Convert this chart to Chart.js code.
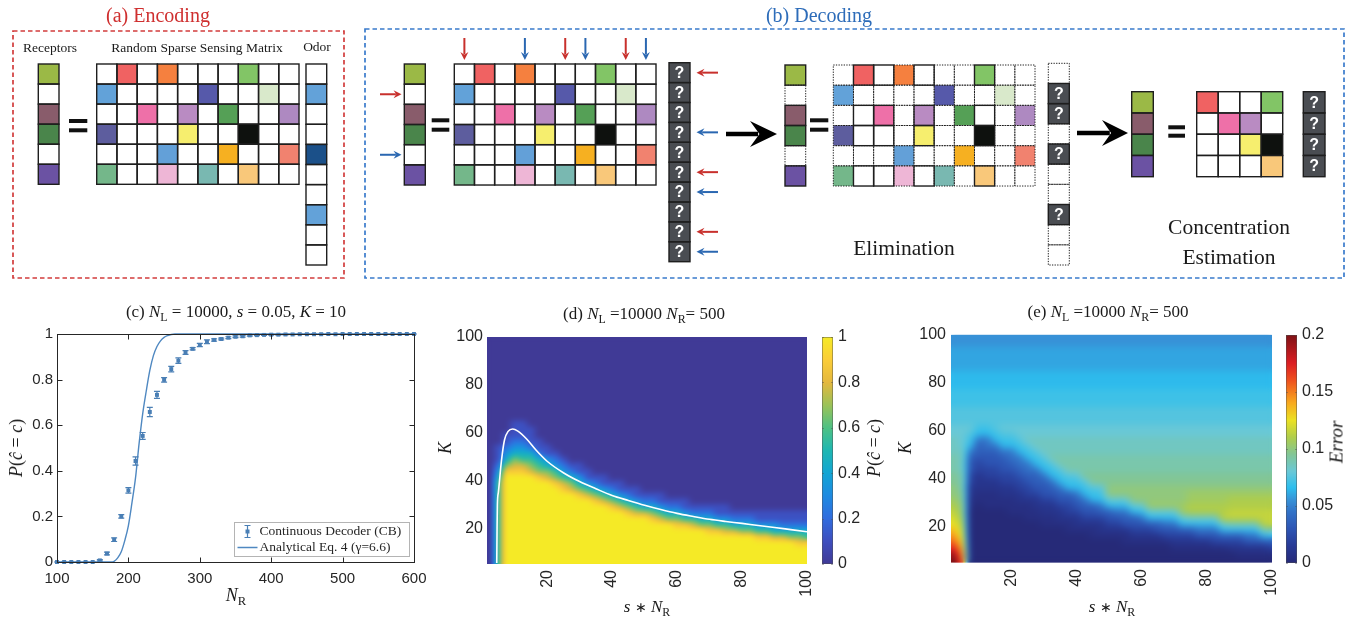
<!DOCTYPE html>
<html>
<head>
<meta charset="utf-8">
<title>Sparse sensing: encoding, decoding and performance</title>
<script src="https://cdn.jsdelivr.net/npm/chart.js@4.4.1/dist/chart.umd.min.js"></script>
<style>
  html, body { margin: 0; padding: 0; background: #fff; }
  body { position: relative; width: 1355px; height: 621px; overflow: hidden; font-family: "Liberation Serif", serif; color: #1a1a1a; }
  canvas { position: absolute; }
  .lab { position: absolute; white-space: nowrap; line-height: 1; transform: translate(-50%, -50%); }
  .rot { transform: translate(-50%, -50%) rotate(-90deg); }
  .sub { font-size: 0.7em; position: relative; top: 0.32em; font-style: normal; }
  .ast { font-size: 0.85em; }
</style>
</head>
<body>
<canvas id="diagram" width="1355" height="290" style="left:0;top:0"></canvas>
<canvas id="chartC" width="440" height="301" style="left:0;top:320px"></canvas>
<canvas id="chartD" width="380" height="301" style="left:440px;top:320px"></canvas>
<canvas id="cbarD" width="60" height="280" style="left:810px;top:320px"></canvas>
<canvas id="chartE" width="400" height="301" style="left:880px;top:320px"></canvas>
<canvas id="cbarE" width="60" height="280" style="left:1275px;top:320px"></canvas>

<div class="lab" style="left:158px;top:15px;font-size:20px;color:#cf2f2f">(a) Encoding</div>
<div class="lab" style="left:819px;top:15px;font-size:20px;color:#2d6cb9">(b) Decoding</div>
<div class="lab" style="left:50px;top:48px;font-size:13.5px">Receptors</div>
<div class="lab" style="left:197px;top:48px;font-size:13.5px">Random Sparse Sensing Matrix</div>
<div class="lab" style="left:317px;top:47px;font-size:13.5px">Odor</div>
<div class="lab" style="left:904px;top:249px;font-size:21.5px">Elimination</div>
<div class="lab" style="left:1229px;top:228px;font-size:21.5px">Concentration</div>
<div class="lab" style="left:1229px;top:258px;font-size:21.5px">Estimation</div>

<div class="lab" style="left:236px;top:311px;font-size:17px">(c) <i>N</i><span class="sub">L</span> = 10000, <i>s</i> = 0.05, <i>K</i> = 10</div>
<div class="lab" style="left:644px;top:313px;font-size:17px">(d) <i>N</i><span class="sub">L</span> =10000 <i>N</i><span class="sub">R</span>= 500</div>
<div class="lab" style="left:1108px;top:311px;font-size:17px">(e) <i>N</i><span class="sub">L</span> =10000 <i>N</i><span class="sub">R</span>= 500</div>

<div class="lab" style="left:236px;top:595px;font-size:18px"><i>N</i><span class="sub">R</span></div>
<div class="lab rot" style="left:16px;top:448px;font-size:18px"><i>P</i>(<i>ĉ</i> = <i>c</i>)</div>
<div class="lab" style="left:647px;top:606px;font-size:17px"><i>s</i> <span class="ast">∗</span> <i>N</i><span class="sub">R</span></div>
<div class="lab rot" style="left:445px;top:448px;font-size:18px"><i>K</i></div>
<div class="lab rot" style="left:874px;top:448px;font-size:18px"><i>P</i>(<i>ĉ</i> = <i>c</i>)</div>
<div class="lab" style="left:1112px;top:606px;font-size:17px"><i>s</i> <span class="ast">∗</span> <i>N</i><span class="sub">R</span></div>
<div class="lab rot" style="left:905px;top:448px;font-size:18px"><i>K</i></div>
<div class="lab rot" style="left:1336px;top:442px;font-size:19px"><i>Error</i></div>

<script>
// ---------- data: (a)/(b) diagram ----------
// entry ids of the sensing matrix (0 = empty), receptor and odor vectors
const sensing = [
  [0, 1, 0, 2, 0, 0, 0, 3, 0, 0],
  [4, 0, 0, 0, 0, 5, 0, 0, 6, 0],
  [0, 0, 7, 0, 8, 0, 9, 0, 0, 10],
  [11, 0, 0, 0, 12, 0, 0, 13, 0, 0],
  [0, 0, 0, 14, 0, 0, 15, 0, 0, 16],
  [17, 0, 0, 18, 0, 19, 0, 20, 0, 0]
];
const receptorIds = [21, 0, 22, 23, 0, 24];
const odorIds = [0, 25, 0, 0, 26, 0, 0, 25, 0, 0];

// ---------- data: (c) ----------
const nR = [100, 110, 120, 130, 140, 150, 160, 170, 180, 190, 200, 210, 220, 230, 240, 250, 260, 270, 280, 290,
  300, 310, 320, 330, 340, 350, 360, 370, 380, 390, 400, 410, 420, 430, 440, 450, 460, 470, 480, 490,
  500, 510, 520, 530, 540, 550, 560, 570, 580, 590, 600];
const pCB = [0, 0, 0, 0, 0, 0, 0.007, 0.037, 0.098, 0.2, 0.314, 0.443, 0.553, 0.658, 0.733, 0.799, 0.846, 0.883, 0.919, 0.935,
  0.952, 0.966, 0.974, 0.978, 0.984, 0.988, 0.99, 0.994, 0.995, 0.996, 0.997, 0.997, 0.998, 0.998, 0.999, 0.999, 0.999, 0.999, 1, 0.999,
  1, 1, 1, 1, 1, 1, 1, 1, 1, 1, 1];
const errCB = [0, 0, 0, 0, 0, 0, 0.003, 0.006, 0.008, 0.008, 0.012, 0.018, 0.015, 0.02, 0.015, 0.01, 0.012, 0.012, 0.008, 0.005,
  0.007, 0.008, 0.005, 0.004, 0.004, 0.004, 0.004, 0.003, 0.002, 0.002, 0.002, 0.002, 0.002, 0.001, 0.001, 0.001, 0.001, 0.001, 0, 0.001,
  0, 0, 0, 0, 0, 0, 0, 0, 0, 0, 0];
const nRcurve = [100, 175, 180, 185, 190, 195, 200, 205, 210, 215, 220, 225, 230, 235, 240, 245, 250, 255, 260, 265, 600];
const pAnalytic = [0, 0, 0.003, 0.018, 0.045, 0.095, 0.16, 0.26, 0.37, 0.52, 0.65, 0.75, 0.84, 0.905, 0.945, 0.97, 0.985, 0.993, 0.998, 1, 1];
const xTicksC = [100, 200, 300, 400, 500, 600];
const xTickLabelsC = ['100', '200', '300', '400', '500', '600'];
const yTicksC = [0, 0.2, 0.4, 0.6, 0.8, 1];
const yTickLabelsC = ['0', '0.2', '0.4', '0.6', '0.8', '1'];

// ---------- data: (d)/(e) grids ----------
const sCols = [2.5, 5, 7.5, 10, 12.5, 15, 17.5, 20, 22.5, 25, 27.5, 30, 32.5, 35, 37.5, 40, 42.5, 45, 47.5, 50,
  52.5, 55, 57.5, 60, 62.5, 65, 67.5, 70, 72.5, 75, 77.5, 80, 82.5, 85, 87.5, 90, 92.5, 95, 97.5, 100];
const kRows = [6.25, 8.75, 11.25, 13.75, 16.25, 18.75, 21.25, 23.75, 26.25, 28.75, 31.25, 33.75, 36.25, 38.75, 41.25,
  43.75, 46.25, 48.75, 51.25, 53.75, 56.25, 58.75, 61.25, 63.75, 66.25, 68.75, 71.25, 73.75, 76.25, 78.75,
  81.25, 83.75, 86.25, 88.75, 91.25, 93.75, 96.25, 98.75];
// P(c^=c) per column of s*N_R, bottom (K small) to top, digit/9
const pGrid = [
  '00000000000000000000000000000000000000',
  '55555555555555432111000000000000000000',
  '99999999999999986432110000000000000000',
  '99999999999999987643211100000000000000',
  '99999999999999987543211100000000000000',
  '99999999999999976542111000000000000000',
  '99999999999999865421100000000000000000',
  '99999999999999764311000000000000000000',
  '99999999999998653210000000000000000000',
  '99999999999987532100000000000000000000',
  '99999999999976421000000000000000000000',
  '99999999999864311000000000000000000000',
  '99999999999753110000000000000000000000',
  '99999999998642100000000000000000000000',
  '99999999997531100000000000000000000000',
  '99999999986421000000000000000000000000',
  '99999999975311000000000000000000000000',
  '99999999864210000000000000000000000000',
  '99999999753110000000000000000000000000',
  '99999999742100000000000000000000000000',
  '99999998642100000000000000000000000000',
  '99999997531100000000000000000000000000',
  '99999996421000000000000000000000000000',
  '99999986421000000000000000000000000000',
  '99999985311000000000000000000000000000',
  '99999975210000000000000000000000000000',
  '99999964210000000000000000000000000000',
  '99999864210000000000000000000000000000',
  '99999853110000000000000000000000000000',
  '99999753110000000000000000000000000000',
  '99999742100000000000000000000000000000',
  '99999642100000000000000000000000000000',
  '99999642100000000000000000000000000000',
  '99998531100000000000000000000000000000',
  '99998531100000000000000000000000000000',
  '99997431100000000000000000000000000000',
  '99997421100000000000000000000000000000',
  '99996421100000000000000000000000000000',
  '99986421100000000000000000000000000000',
  '99985421100000000000000000000000000000'
];
// error per column, bottom to top, letter index * 0.005
const errGrid = [
  'OMIFDBzyxwvuuttsssrrrqqpppooonnnmmmmll',
  'GECAyxwvuuttsssrrrrqqqqpppooonnnmmmmll',
  'aaaaaaaaabbcceegghjnopqpppooonnnmmmmll',
  'aaaaaaaaaabbccceeghhjnopppooonnnmmmmll',
  'aaaaaaaaabbbcceegghjjnopppooonnnmmmmll',
  'aaaaaaaaabbbcceegghjnoppppooonnnmmmmll',
  'aaaaaaaaabbcceegghjnopqpppooonnnmmmmll',
  'aaaaaaaabbbcceeghjjnopqpppooonnnmmmmll',
  'aaaaaaaabbcceeghjjnopqqpppooonnnmmmmll',
  'aaaaaaabbbceeghjjnoprqqpppooonnnmmmmll',
  'aaaaaaabbcceghhjnoprrqqpppooonnnmmmmll',
  'aaaaaabbccegghjnoprrrqqpppooonnnmmmmll',
  'aaaaaabbcceghjnopsrrrqqpppooonnnmmmmll',
  'aaaaaabcceghjnopssrrrqqpppooonnnmmmmll',
  'aaaaabbceeghnopsssrrrqqpppooonnnmmmmll',
  'aaaaabcceghjnopsssrrrqqpppooonnnmmmmll',
  'aaaaabceghjnoptsssrrrqqpppooonnnmmmmll',
  'aaaabbceghnopttsssrrrqqpppooonnnmmmmll',
  'aaaabccehjnopttsssrrrqqpppooonnnmmmmll',
  'aaaabceghnquuttsssrrrqqpppooonnnmmmmll',
  'aaaabcegjnquuttsssrrrqqpppooonnnmmmmll',
  'aaabbcghjnquuttsssrrrqqpppooonnnmmmmll',
  'aaabceghnquuuttsssrrrqqpppooonnnmmmmll',
  'aaabcegjnquuuttsssrrrqqpppooonnnmmmmll',
  'aaabcehnqvuuuttsssrrrqqpppooonnnmmmmll',
  'aaabcghnqvuuuttsssrrrqqpppooonnnmmmmll',
  'aaabegjnqvuuuttsssrrrqqpppooonnnmmmmll',
  'aabcegjnqvuuuttsssrrrqqpppooonnnmmmmll',
  'aabcehnqvvuuuttsssrrrqqpppooonnnmmmmll',
  'aabcehnrwwvvuttsssrrrqqpppooonnnmmmmll',
  'aabcgjnrwwvvuttsssrrrqqpppooonnnmmmmll',
  'aabcgjnrwwvvuttsssrrrqqpppooonnnmmmmll',
  'aabegjnrwwvvuttsssrrrqqpppooonnnmmmmll',
  'aabehnrxwwvvuttsssrrrqqpppooonnnmmmmll',
  'aacehnsxxwwvuttsssrrrqqpppooonnnmmmmll',
  'abcehnsxxwwvuttsssrrrqqpppooonnnmmmmll',
  'abcgjnsxxwwvuttsssrrrqqpppooonnnmmmmll',
  'abcgjnsxxwwvuttsssrrrqqpppooonnnmmmmll',
  'abcgnsxxxwwvuttsssrrrqqpppooonnnmmmmll',
  'abehnsxxxwwvuttsssrrrqqpppooonnnmmmmll'
];
const errLevels = 'abcdefghijklmnopqrstuvwxyzABCDEFGHIJKLMNO';
// white theory contour in (d)
const contourS = [4.5, 4.6, 4.7, 5.0, 5.3, 5.7, 6.2, 6.9, 8.0, 9.4, 11.0, 13.7, 16.5, 20, 25, 30, 35, 40, 45, 50,
  55, 60, 65, 70, 75, 80, 85, 90, 95, 100];
const contourK = [5.4, 20, 30, 35, 39, 45, 51, 57, 60.5, 61.5, 60.6, 57.3, 52.8, 48, 43.2, 39.5, 36.5, 33.7, 31.6, 29.6,
  27.8, 26.2, 24.9, 23.7, 22.8, 22, 21.1, 20.3, 19.4, 18.5];
const sTicks = [20, 40, 60, 80, 100];
const sTickLabels = ['20', '40', '60', '80', '100'];
const kTicks = [20, 40, 60, 80, 100];
const kTickLabels = ['20', '40', '60', '80', '100'];
const cbTicksD = [0, 0.2, 0.4, 0.6, 0.8, 1];
const cbLabelsD = ['0', '0.2', '0.4', '0.6', '0.8', '1'];
const cbTicksE = [0, 0.05, 0.1, 0.15, 0.2];
const cbLabelsE = ['0', '0.05', '0.1', '0.15', '0.2'];

// ---------- styles ----------
const palette = ['#ffffff', '#f06262', '#f5803f', '#82c566', '#62a2d9', '#5659aa', '#d9e9cb', '#ee70a8', '#b98bc2',
  '#55a056', '#ae89c1', '#5d5d9e', '#f6ee6e', '#0e110e', '#63a0d8', '#f6b021', '#f1826f', '#74b78a', '#eeb6d6',
  '#79b8b1', '#f9c87a', '#9bb946', '#895c6b', '#4a854b', '#6b52a3', '#63a2d9', '#1b5089'];
const arrowColors = ['#c8302c', '#2a67b1'];
const ink = '#1e1e1e';
const qFill = '#4a4d52';
const cbBlue = '#4a7fb5';
const curveBlue = '#4f88c1';
const tickColor = '#262626';
const tickFont = { family: 'Liberation Sans', size: 15 };
const heatFont = { family: 'Liberation Sans', size: 16 };
const parulaStops = [[0, 64, 58, 150], [0.1, 62, 78, 190], [0.2, 48, 108, 222], [0.3, 30, 138, 225], [0.4, 18, 165, 212],
  [0.5, 30, 183, 178], [0.6, 78, 193, 132], [0.7, 155, 194, 88], [0.8, 228, 184, 62], [0.9, 251, 205, 55], [1, 245, 234, 38]];
const jetStops = [[0, 38, 42, 120], [0.015, 40, 58, 150], [0.03, 45, 85, 180], [0.045, 50, 115, 200], [0.055, 55, 145, 215],
  [0.066, 45, 190, 238], [0.08, 105, 200, 215], [0.095, 130, 198, 150], [0.11, 175, 205, 75], [0.125, 235, 225, 35],
  [0.14, 248, 170, 30], [0.16, 238, 80, 30], [0.175, 220, 30, 35], [0.2, 125, 18, 22]];

const base = {
  responsive: false, animation: false, events: [], devicePixelRatio: 1,
  plugins: { legend: { display: false }, tooltip: { enabled: false } }
};
const fixTicks = vals => s => { s.ticks = vals.map(v => ({ value: v })); };
const noGrid = { display: false, drawTicks: false };

function cmap(stops, v) {
  if (v <= stops[0][0]) return stops[0].slice(1);
  for (let i = 1; i < stops.length; i++) {
    if (v <= stops[i][0]) {
      const a = stops[i - 1], b = stops[i], t = (v - a[0]) / (b[0] - a[0]);
      return [1, 2, 3].map(k => Math.round(a[k] + (b[k] - a[k]) * t));
    }
  }
  return stops[stops.length - 1].slice(1);
}

function locate(arr, v) {
  const n = arr.length;
  if (v <= arr[0]) return [0, 0];
  if (v >= arr[n - 1]) return [n - 2, 1];
  let i = 0;
  while (arr[i + 1] < v) i++;
  return [i, (v - arr[i]) / (arr[i + 1] - arr[i])];
}

// heat map painted pixel by pixel through the chart's scales
function heatLayer(cols, rows, grid, decode, stops, soften) {
  const vals = grid.map(s => {
    const a = Array.from(s).map(decode).slice(0, rows.length);
    while (a.length < rows.length) a.push(a[a.length - 1]);
    return a;
  });
  return {
    id: 'heat',
    beforeDatasetsDraw(chart) {
      const { ctx, chartArea: a, scales: { x, y } } = chart;
      const W = Math.round(a.right - a.left), H = Math.round(a.bottom - a.top);
      const off = document.createElement('canvas');
      off.width = W; off.height = H;
      const octx = off.getContext('2d');
      const img = octx.createImageData(W, H);
      const cx = [], ry = [];
      for (let i = 0; i < W; i++) cx.push(locate(cols, x.getValueForPixel(a.left + i + 0.5)));
      for (let j = 0; j < H; j++) ry.push(locate(rows, y.getValueForPixel(a.top + j + 0.5)));
      let k = 0;
      for (let j = 0; j < H; j++) {
        const [r, ty] = ry[j];
        for (let i = 0; i < W; i++) {
          const [c, tx] = cx[i];
          const v = (vals[c][r] * (1 - tx) + vals[c + 1][r] * tx) * (1 - ty) +
                    (vals[c][r + 1] * (1 - tx) + vals[c + 1][r + 1] * tx) * ty;
          const col = cmap(stops, v);
          img.data[k++] = col[0]; img.data[k++] = col[1]; img.data[k++] = col[2]; img.data[k++] = 255;
        }
      }
      octx.putImageData(img, 0, 0);
      ctx.save();
      ctx.beginPath(); ctx.rect(a.left, a.top, W, H); ctx.clip();
      ctx.drawImage(off, a.left, a.top);
      ctx.filter = 'blur(' + soften + 'px)';
      ctx.drawImage(off, a.left, a.top);
      ctx.restore();
    }
  };
}

function colorbarLayer(stops) {
  return {
    id: 'cbar',
    beforeDatasetsDraw(chart) {
      const { ctx, chartArea: a, scales: { y } } = chart;
      for (let py = Math.round(a.top); py < Math.round(a.bottom); py++) {
        ctx.fillStyle = 'rgb(' + cmap(stops, y.getValueForPixel(py + 0.5)).join(',') + ')';
        ctx.fillRect(a.left, py, a.right - a.left, 1);
      }
      ctx.save();
      ctx.strokeStyle = 'rgba(80,80,80,0.45)';
      ctx.lineWidth = 1;
      ctx.strokeRect(Math.round(a.left) + 0.5, Math.round(a.top) + 0.5, Math.round(a.right - a.left) - 1, Math.round(a.bottom - a.top) - 1);
      y.ticks.forEach(t => {
        const p = Math.round(y.getPixelForValue(t.value)) + 0.5;
        ctx.beginPath();
        ctx.moveTo(a.left, p); ctx.lineTo(a.left + 2, p);
        ctx.moveTo(a.right - 2, p); ctx.lineTo(a.right, p);
        ctx.stroke();
      });
      ctx.restore();
    }
  };
}

// ---------- (a)/(b) diagram ----------
const diagramLayer = {
  id: 'diagram',
  afterDraw(chart) {
    const ctx = chart.ctx;
    const X = v => chart.scales.x.getPixelForValue(v);
    const Y = v => chart.scales.y.getPixelForValue(v);
    const cells = [];
    const add = (x, y, w, h, fill, dotted, q) => cells.push({ x: X(x), y: Y(y), w: X(x + w) - X(x), h: Y(y + h) - Y(y), fill, dotted, q });
    const column = (x0, y0, w, h, ids, dottedFn) => ids.forEach((id, r) => add(x0, y0 + r * h, w, h, palette[id], dottedFn ? dottedFn(r) : false, false));
    const matrix = (x0, y0, w, h, rowsIdx, colsIdx, dottedFn) => rowsIdx.forEach((r, i) => colsIdx.forEach((c, j) =>
      add(x0 + j * w, y0 + i * h, w, h, palette[sensing[r][c]], dottedFn ? dottedFn(r, c) : false, false)));

    const allRows = sensing.map((_, r) => r);
    const allCols = sensing[0].map((_, c) => c);
    const zeroRows = receptorIds.map((id, r) => id ? -1 : r).filter(r => r >= 0);
    const colsOf = r => sensing[r].map((id, c) => id ? c : -1).filter(c => c >= 0);
    const elimCols = zeroRows.flatMap(colsOf);
    const keptRows = allRows.filter(r => !zeroRows.includes(r));
    const keptCols = allCols.filter(c => !elimCols.includes(c));

    // (a) encoding
    column(38.3, 64, 20.7, 20.05, receptorIds);
    matrix(96.7, 64, 20.23, 20.05, allRows, allCols);
    column(306, 64, 20.7, 20.1, odorIds);
    // (b) decoding, measurement
    column(404.3, 64, 21, 20.17, receptorIds);
    matrix(454.3, 64, 20.17, 20.17, allRows, allCols);
    odorIds.forEach((_, r) => add(669, 62.7 + r * 19.9, 21, 19.9, qFill, false, true));
    // elimination
    column(785, 65, 20.7, 20.17, receptorIds, r => zeroRows.includes(r));
    matrix(833.3, 65, 20.17, 20.17, allRows, allCols, (r, c) => zeroRows.includes(r) || elimCols.includes(c));
    odorIds.forEach((_, r) => {
      const unknown = keptCols.includes(r);
      add(1048.3, 63.3 + r * 20.17, 21, 20.17, unknown ? qFill : '#fff', !unknown, unknown);
    });
    // concentration estimation
    keptRows.forEach((r, i) => add(1131.7, 91.7 + i * 21.25, 21.6, 21.25, palette[receptorIds[r]], false, false));
    matrix(1196.7, 91.7, 21.5, 21.25, keptRows, keptCols);
    keptCols.forEach((_, i) => add(1303.3, 91.7 + i * 21.25, 21.7, 21.25, qFill, false, true));

    ctx.save();
    cells.forEach(c => { ctx.fillStyle = c.fill || '#fff'; ctx.fillRect(c.x, c.y, c.w, c.h); });
    ctx.strokeStyle = ink;
    ctx.lineWidth = 1; ctx.setLineDash([1.3, 1.3]);
    cells.filter(c => c.dotted).forEach(c => ctx.strokeRect(c.x, c.y, c.w, c.h));
    ctx.lineWidth = 1.4; ctx.setLineDash([]);
    cells.filter(c => !c.dotted).forEach(c => ctx.strokeRect(c.x, c.y, c.w, c.h));
    ctx.fillStyle = '#fff'; ctx.font = 'bold 16px "Liberation Sans"'; ctx.textAlign = 'center'; ctx.textBaseline = 'middle';
    cells.filter(c => c.q).forEach(c => ctx.fillText('?', c.x + c.w / 2, c.y + c.h / 2 + 1));

    // dashed frames
    const frame = (x1, y1, x2, y2, color) => {
      ctx.save(); ctx.strokeStyle = color; ctx.lineWidth = 1.7; ctx.setLineDash([4.5, 3]);
      ctx.strokeRect(X(x1), Y(y1), X(x2) - X(x1), Y(y2) - Y(y1)); ctx.restore();
    };
    frame(13, 31, 344, 278, '#d23c3c');
    frame(365, 29, 1344, 278, '#3a7bcc');

    // equal signs
    const eq = (x1, x2, ya, yb, th) => {
      ctx.fillStyle = '#111';
      ctx.fillRect(X(x1), Y(ya), X(x2) - X(x1), th);
      ctx.fillRect(X(x1), Y(yb), X(x2) - X(x1), th);
    };
    eq(69, 87.3, 119, 128.3, 4);
    eq(431.7, 449.3, 118.3, 127.7, 4);
    eq(810, 828.3, 118.3, 127.7, 4);
    eq(1168.3, 1185, 125.3, 133.7, 4);

    // arrows
    const arrow = (x1, y1, x2, y2, color, lw, hl, hw) => {
      const a = X(x1), b = Y(y1), c = X(x2), d = Y(y2);
      const ang = Math.atan2(d - b, c - a), cs = Math.cos(ang), sn = Math.sin(ang);
      ctx.save(); ctx.strokeStyle = color; ctx.fillStyle = color; ctx.lineWidth = lw;
      ctx.beginPath(); ctx.moveTo(a, b); ctx.lineTo(c - cs * hl * 0.7, d - sn * hl * 0.7); ctx.stroke();
      ctx.beginPath(); ctx.moveTo(c, d);
      ctx.lineTo(c - cs * hl + sn * hw / 2, d - sn * hl - cs * hw / 2);
      ctx.lineTo(c - cs * hl * 0.65, d - sn * hl * 0.65);
      ctx.lineTo(c - cs * hl - sn * hw / 2, d - sn * hl + cs * hw / 2);
      ctx.closePath(); ctx.fill(); ctx.restore();
    };
    zeroRows.forEach((r, i) => {
      const color = arrowColors[i % arrowColors.length];
      const ry = 64 + 20.17 * (r + 0.5);
      arrow(380, ry, 401.5, ry, color, 2, 8, 8);
      colsOf(r).forEach(c => {
        const cx = 454.3 + 20.17 * (c + 0.5);
        arrow(cx, 38, cx, 60, color, 2, 8, 8);
        const oy = 62.7 + 19.9 * (c + 0.5);
        arrow(718, oy, 696.5, oy, color, 2, 8, 8);
      });
    });
    arrow(726, 134, 777, 134, '#000', 4.5, 27, 26);
    arrow(1077, 133, 1128, 133, '#000', 4.5, 26, 26);
    ctx.restore();
  }
};

new Chart(document.getElementById('diagram'), {
  type: 'scatter',
  data: { datasets: [] },
  options: {
    ...base,
    layout: { padding: 0 },
    scales: {
      x: { type: 'linear', display: false, min: 0, max: 1355 },
      y: { type: 'linear', display: false, min: 0, max: 290, reverse: true }
    }
  },
  plugins: [diagramLayer]
});

// ---------- (c) ----------
const errorBars = {
  id: 'errorBars',
  afterDatasetsDraw(chart) {
    const { ctx, scales: { x, y } } = chart;
    ctx.save(); ctx.strokeStyle = cbBlue; ctx.lineWidth = 1.2;
    nR.forEach((n, i) => {
      const px = x.getPixelForValue(n);
      const lo = y.getPixelForValue(pCB[i] - errCB[i]), hi = y.getPixelForValue(pCB[i] + errCB[i]);
      ctx.beginPath();
      ctx.moveTo(px, lo); ctx.lineTo(px, hi);
      ctx.moveTo(px - 3, lo); ctx.lineTo(px + 3, lo);
      ctx.moveTo(px - 3, hi); ctx.lineTo(px + 3, hi);
      ctx.stroke();
    });
    ctx.restore();
  }
};
const boxFrame = {
  id: 'boxFrame',
  afterDraw(chart) {
    const { ctx, chartArea: a, scales: { x, y } } = chart;
    ctx.save(); ctx.strokeStyle = tickColor; ctx.lineWidth = 1;
    const L = Math.round(a.left) + 0.5, T = Math.round(a.top) + 0.5, R = Math.round(a.right) + 0.5, B = Math.round(a.bottom) + 0.5;
    ctx.strokeRect(L, T, R - L, B - T);
    ctx.beginPath();
    x.ticks.forEach(t => { const p = Math.round(x.getPixelForValue(t.value)) + 0.5; ctx.moveTo(p, B); ctx.lineTo(p, B - 5); ctx.moveTo(p, T); ctx.lineTo(p, T + 5); });
    y.ticks.forEach(t => { const p = Math.round(y.getPixelForValue(t.value)) + 0.5; ctx.moveTo(L, p); ctx.lineTo(L + 5, p); ctx.moveTo(R, p); ctx.lineTo(R - 5, p); });
    ctx.stroke();
    ctx.restore();
  }
};
const legendC = {
  id: 'legendC',
  afterDraw(chart) {
    const { ctx, chartArea: a } = chart;
    const x1 = Math.round(a.right) - 180 + 0.5, y1 = Math.round(a.bottom) - 40 + 0.5, w = 175, h = 34;
    ctx.save();
    ctx.fillStyle = '#fff'; ctx.fillRect(x1, y1, w, h);
    ctx.strokeStyle = '#b4b4b4'; ctx.lineWidth = 1; ctx.strokeRect(x1, y1, w, h);
    const ex = x1 + 13, ey = y1 + 9;
    ctx.strokeStyle = cbBlue; ctx.lineWidth = 1.2;
    ctx.beginPath();
    ctx.moveTo(ex, ey - 6); ctx.lineTo(ex, ey + 6);
    ctx.moveTo(ex - 3, ey - 6); ctx.lineTo(ex + 3, ey - 6);
    ctx.moveTo(ex - 3, ey + 6); ctx.lineTo(ex + 3, ey + 6);
    ctx.stroke();
    ctx.fillStyle = cbBlue; ctx.fillRect(ex - 2, ey - 2, 4, 4);
    ctx.strokeStyle = curveBlue; ctx.lineWidth = 1.5;
    ctx.beginPath(); ctx.moveTo(x1 + 3, y1 + 25); ctx.lineTo(x1 + 23, y1 + 25); ctx.stroke();
    ctx.fillStyle = '#262626'; ctx.font = '13.5px "Liberation Serif"'; ctx.textBaseline = 'middle';
    ctx.fillText('Continuous Decoder (CB)', x1 + 25, ey);
    ctx.fillText('Analytical Eq. 4 (γ=6.6)', x1 + 25, y1 + 25);
    ctx.restore();
  }
};

new Chart(document.getElementById('chartC'), {
  type: 'scatter',
  data: {
    datasets: [
      { label: 'Continuous Decoder (CB)', data: nR.map((n, i) => ({ x: n, y: pCB[i] })), showLine: false,
        pointStyle: 'rect', pointRadius: 2.8, pointBorderWidth: 0, pointBackgroundColor: cbBlue, clip: false },
      { label: 'Analytical Eq. 4 (γ=6.6)', data: nRcurve.map((n, i) => ({ x: n, y: pAnalytic[i] })), showLine: true,
        pointRadius: 0, borderColor: curveBlue, borderWidth: 1.4, cubicInterpolationMode: 'monotone', clip: false }
    ]
  },
  options: {
    ...base,
    layout: { padding: { top: 14, right: 26, bottom: 0, left: 0 } },
    scales: {
      x: { type: 'linear', min: 100, max: 600, afterBuildTicks: fixTicks(xTicksC), afterFit: s => { s.height = 59; },
           grid: noGrid, border: { display: false },
           ticks: { padding: 8, font: tickFont, color: tickColor, callback: (v, i) => xTickLabelsC[i] } },
      y: { type: 'linear', min: 0, max: 1, afterBuildTicks: fixTicks(yTicksC), afterFit: s => { s.width = 57; },
           grid: noGrid, border: { display: false },
           ticks: { padding: 4, font: tickFont, color: tickColor, callback: (v, i) => yTickLabelsC[i] } }
    }
  },
  plugins: [errorBars, boxFrame, legendC]
});

// ---------- (d) ----------
const heatScales = (xmin, yW, xH, xPad, yPad) => ({
  x: { type: 'linear', min: xmin, max: 100, afterBuildTicks: fixTicks(sTicks),
       afterFit: s => { s.height = xH; s.paddingLeft = 0; s.paddingRight = 0; },
       grid: noGrid, border: { display: false },
       ticks: { padding: xPad, minRotation: 90, maxRotation: 90, autoSkip: false, font: heatFont, color: tickColor,
                callback: (v, i) => sTickLabels[i] } },
  y: { type: 'linear', min: 5, max: 100, afterBuildTicks: fixTicks(kTicks), afterFit: s => { s.width = yW; },
       grid: noGrid, border: { display: false },
       ticks: { padding: yPad, font: heatFont, color: tickColor, callback: (v, i) => kTickLabels[i] } }
});

new Chart(document.getElementById('chartD'), {
  type: 'scatter',
  data: {
    datasets: [{ label: 'theory', data: contourS.map((s, i) => ({ x: s, y: contourK[i] })), showLine: true,
                 pointRadius: 0, borderColor: '#ffffff', borderWidth: 1.6, cubicInterpolationMode: 'monotone' }]
  },
  options: { ...base, layout: { padding: { top: 17, right: 13, bottom: 0, left: 0 } }, scales: heatScales(1.5, 47, 57, 6, 4) },
  plugins: [heatLayer(sCols, kRows, pGrid, ch => Number(ch) / 9, parulaStops, 2)]
});

// ---------- (e) ----------
new Chart(document.getElementById('chartE'), {
  type: 'scatter',
  data: { datasets: [] },
  options: { ...base, layout: { padding: { top: 14, right: 8, bottom: 0, left: 0 } }, scales: heatScales(1.5, 71, 58, 6, 5) },
  plugins: [heatLayer(sCols, kRows, errGrid, ch => errLevels.indexOf(ch) * 0.005, jetStops, 3.2)]
});

// ---------- colour bars ----------
function colorbar(id, max, ticks, labels, stops, padLeft, axisW, padTop, padBottom) {
  new Chart(document.getElementById(id), {
    type: 'scatter',
    data: { datasets: [] },
    options: {
      ...base,
      layout: { padding: { top: padTop, bottom: padBottom, left: padLeft, right: 0 } },
      scales: {
        x: { type: 'linear', display: false, min: 0, max: 1 },
        y: { type: 'linear', position: 'right', min: 0, max: max, afterBuildTicks: fixTicks(ticks), afterFit: s => { s.width = axisW; },
             grid: noGrid, border: { display: false },
             ticks: { padding: 5, font: heatFont, color: tickColor, callback: (v, i) => labels[i] } }
      }
    },
    plugins: [colorbarLayer(stops)]
  });
}
colorbar('cbarD', 1, cbTicksD, cbLabelsD, parulaStops, 12, 37, 17, 36);
colorbar('cbarE', 0.2, cbTicksE, cbLabelsE, jetStops, 11, 38, 14, 37);
</script>
</body>
</html>
